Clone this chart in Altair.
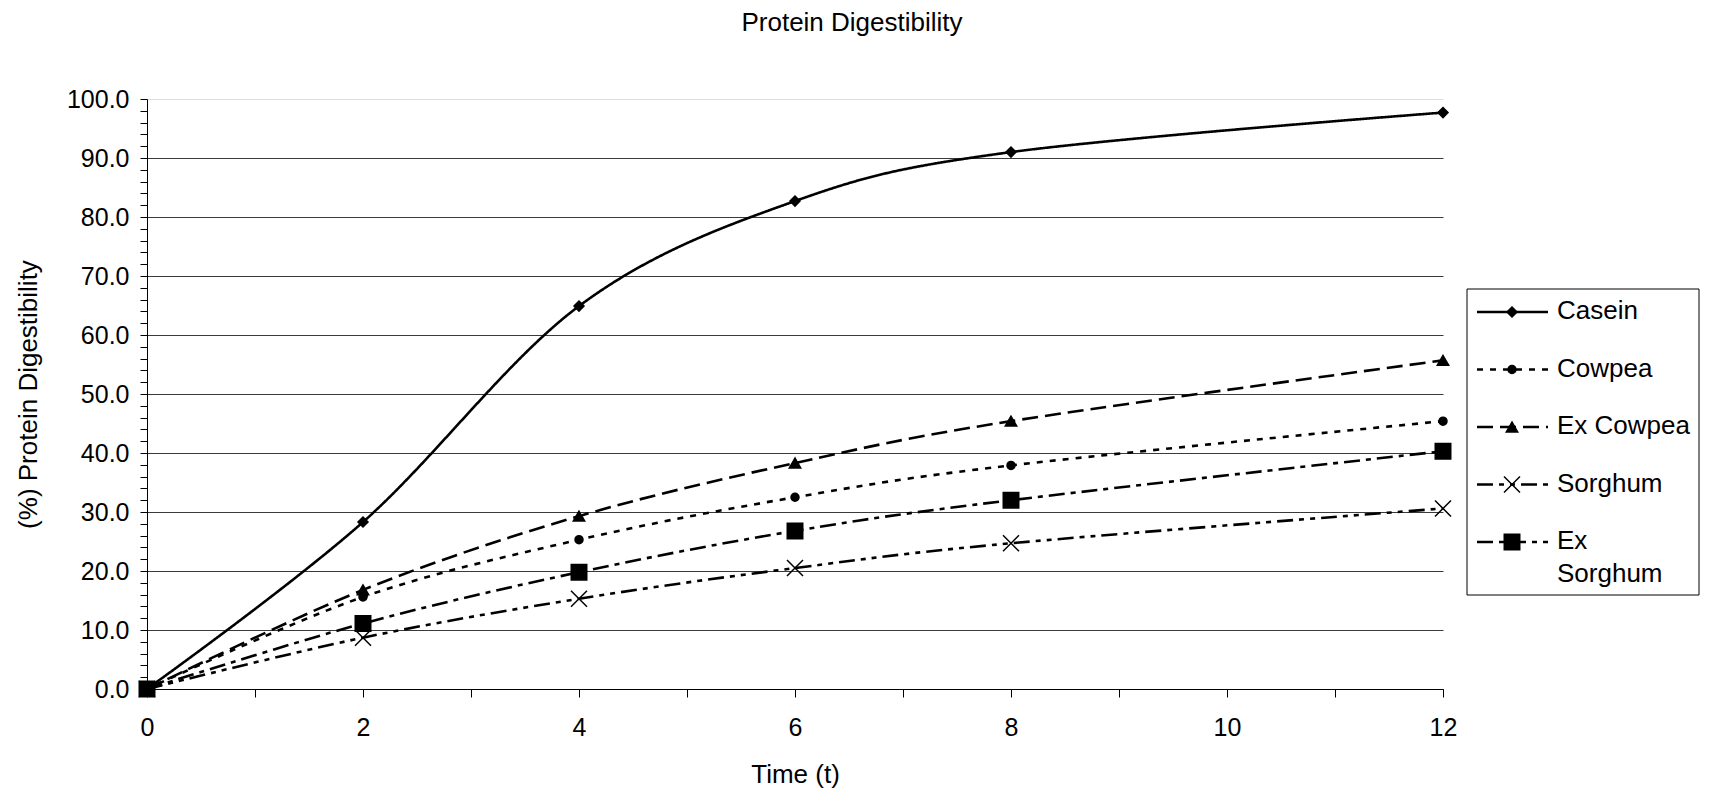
import altair as alt
import pandas as pd

# ---- data ----
TIME = [0, 2, 4, 6, 8, 12]
SERIES = ["Casein", "Cowpea", "Ex Cowpea", "Sorghum", "Ex Sorghum"]
LEGEND_LABELS = ["Casein", "Cowpea", "Ex Cowpea", "Sorghum", "Ex\nSorghum"]
CASEIN = [0.0, 28.3, 64.9, 82.7, 91.0, 97.7]
COWPEA = [0.0, 15.6, 25.3, 32.5, 37.9, 45.4]
EX_COWPEA = [0.0, 16.8, 29.3, 38.3, 45.4, 55.7]
SORGHUM = [0.0, 8.7, 15.3, 20.5, 24.7, 30.6]
EX_SORGHUM = [0.0, 11.1, 19.8, 26.8, 32.0, 40.3]
X_TICKS = list(range(0, 13))
Y_TICKS = list(range(0, 101, 2))

rows = []
for name, vals in zip(SERIES, [CASEIN, COWPEA, EX_COWPEA, SORGHUM, EX_SORGHUM]):
    for t, v in zip(TIME, vals):
        rows.append({"series": name, "time": t, "value": v})
df = pd.DataFrame(rows)
legend_df = pd.DataFrame(
    {"series": SERIES, "label": LEGEND_LABELS, "row": list(range(len(SERIES)))}
)

FONT = "Liberation Sans"

dash_scale = alt.Scale(
    domain=SERIES,
    range=[[1, 0], [6, 7], [16, 7], [16, 6, 5, 6, 5, 6], [16, 6, 5, 6]],
)
shape_scale = alt.Scale(
    domain=SERIES,
    range=["diamond", "circle", "triangle-up", "M-1,-1L1,1M-1,1L1,-1", "square"],
)
size_scale = alt.Scale(type="ordinal", domain=SERIES, range=[100, 64, 130, 256, 240])

x_enc = alt.X(
    "time:Q",
    title="Time (t)",
    scale=alt.Scale(domain=[0, 12], nice=False, zero=False),
    axis=alt.Axis(
        values=X_TICKS,
        format="d",
        labelExpr="datum.value % 2 === 0 ? datum.label : ''",
        grid=False,
        tickSize=8,
        tickColor="black",
        domainColor="black",
        labelFontSize=25,
        labelColor="black",
        labelPadding=18,
        labelFlush=False,
        labelOverlap=False,
        titleFontSize=26,
        titleFontWeight="normal",
        titleColor="black",
        titlePadding=21,
    ),
)
y_enc = alt.Y(
    "value:Q",
    title="(%) Protein Digestibility",
    scale=alt.Scale(domain=[0, 100], nice=False),
    axis=alt.Axis(
        values=Y_TICKS,
        format=".1f",
        labelExpr="datum.value % 10 === 0 ? datum.label : ''",
        tickSize=7,
        tickColor="black",
        domainColor="black",
        gridColor={"condition": {"test": "datum.value === 100", "value": "#dddddd"}, "value": "#3a3a3a"},
        gridOpacity={"condition": {"test": "datum.value % 10 === 0", "value": 1}, "value": 0},
        gridWidth=1,
        labelFontSize=25,
        labelColor="black",
        labelPadding=11,
        labelFlush=False,
        labelOverlap=False,
        titleFontSize=26,
        titleFontWeight="normal",
        titleColor="black",
        titlePadding=25,
    ),
)

lines = alt.Chart(df).mark_line(
    color="black", strokeWidth=2.6, interpolate="cardinal", tension=0
).encode(
    x=x_enc,
    y=y_enc,
    detail="series:N",
    strokeDash=alt.StrokeDash("series:N", scale=dash_scale, legend=None),
)

points = alt.Chart(df).mark_point(
    filled=True, color="black", fill="black", stroke="black", strokeWidth=1.5, opacity=1
).encode(
    x=x_enc,
    y=y_enc,
    shape=alt.Shape("series:N", scale=shape_scale, legend=None),
    size=alt.Size("series:O", scale=size_scale, legend=None),
)

main = alt.layer(lines, points)

legend_y = alt.Y(
    "row:Q",
    scale=alt.Scale(domain=[0, len(SERIES) - 1], range=[213, 443], nice=False, zero=False),
    axis=None,
)

box = alt.Chart(pd.DataFrame({"k": [0]})).mark_rect(
    fillOpacity=0, stroke="black", strokeWidth=1
).encode(
    x=alt.value(1320), x2=alt.value(1552), y=alt.value(190), y2=alt.value(496)
)

leg_rules = alt.Chart(legend_df).mark_rule(color="black", strokeWidth=2.6).encode(
    x=alt.value(1330),
    x2=alt.value(1401),
    y=legend_y,
    strokeDash=alt.StrokeDash("series:N", scale=dash_scale, legend=None),
)

leg_points = alt.Chart(legend_df).mark_point(
    filled=True, color="black", fill="black", stroke="black", strokeWidth=1.5, opacity=1
).encode(
    x=alt.value(1365),
    y=legend_y,
    shape=alt.Shape("series:N", scale=shape_scale, legend=None),
    size=alt.Size("series:O", scale=size_scale, legend=None),
)

leg_text = alt.Chart(legend_df).mark_text(
    align="left", baseline="top", dy=-14, fontSize=26, lineBreak="\n",
    lineHeight=33, color="black", font=FONT,
).encode(
    x=alt.value(1410),
    y=legend_y,
    text="label:N",
)

legend = alt.layer(box, leg_rules, leg_points, leg_text)

chart = (
    alt.layer(main, legend)
    .resolve_scale(y="independent")
    .properties(
        width=1296,
        height=590,
        padding={"left": 147, "top": 99, "right": 266, "bottom": 104},
        autosize=alt.AutoSizeParams(type="none"),
        title=alt.TitleParams(
            text="Protein Digestibility",
            fontSize=26,
            font=FONT,
            fontWeight="normal",
            color="black",
            anchor="middle",
            dx=57,
            offset=51,
        ),
    )
    .configure(font=FONT, background="white")
    .configure_view(stroke=None)
)

chart.save("out.html", embed_options={"renderer": "svg", "actions": False})
